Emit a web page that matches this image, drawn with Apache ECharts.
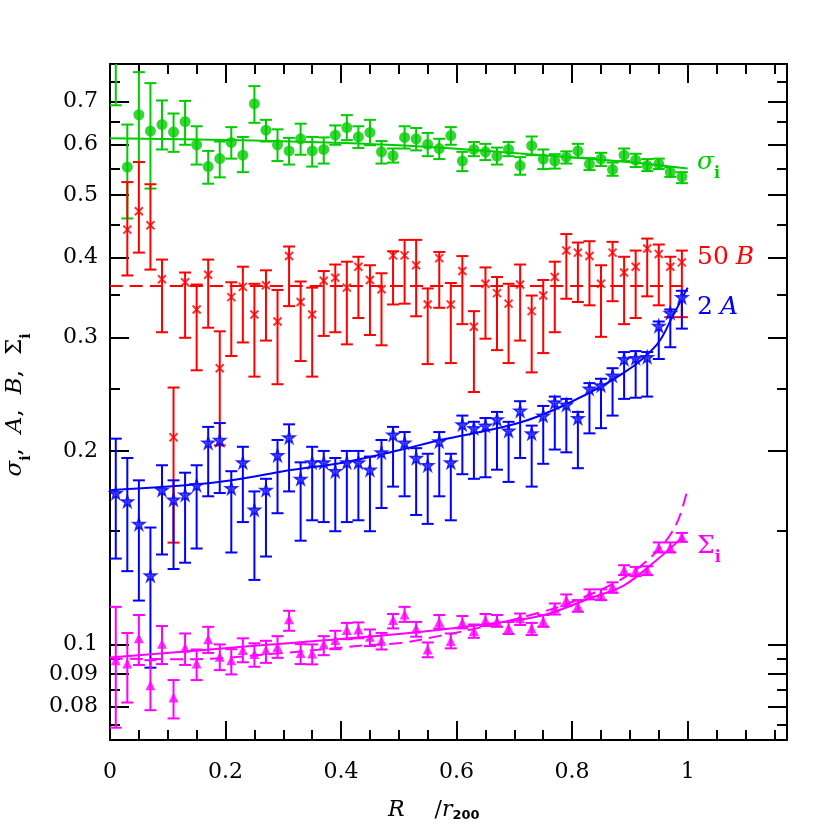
<!DOCTYPE html>
<html><head><meta charset="utf-8">
<script src="https://cdn.jsdelivr.net/npm/echarts@6/dist/echarts.min.js"></script>
<style>html,body{margin:0;padding:0;background:#fff}#c{width:830px;height:830px}</style>
</head><body><div id="c"></div>
<script>
// ---- data ----
const R = [0.01,0.03,0.05,0.07,0.09,0.11,0.13,0.15,0.17,0.19,0.21,0.23,0.25,0.27,0.29,0.31,0.33,0.35,0.37,0.39,0.41,0.43,0.45,0.47,0.49,0.51,0.53,0.55,0.57,0.59,0.61,0.63,0.65,0.67,0.69,0.71,0.73,0.75,0.77,0.79,0.81,0.83,0.85,0.87,0.89,0.91,0.93,0.95,0.97,0.99];

const sigmaI   = [0.88,0.553,0.667,0.629,0.644,0.627,0.651,0.599,0.554,0.570,0.604,0.577,0.694,0.631,0.599,0.586,0.612,0.586,0.589,0.620,0.637,0.616,0.626,0.584,0.576,0.615,0.612,0.600,0.591,0.619,0.565,0.589,0.584,0.575,0.589,0.556,0.597,0.569,0.565,0.573,0.586,0.559,0.569,0.548,0.577,0.567,0.556,0.559,0.543,0.534];
const sigmaILo = [0.690,0.460,0.563,0.512,0.589,0.584,0.599,0.558,0.521,0.533,0.570,0.543,0.648,0.606,0.565,0.558,0.578,0.554,0.560,0.599,0.609,0.592,0.598,0.560,0.562,0.591,0.587,0.575,0.569,0.599,0.545,0.575,0.567,0.558,0.575,0.538,0.577,0.549,0.550,0.560,0.572,0.547,0.555,0.536,0.565,0.553,0.545,0.549,0.534,0.522];
const sigmaIHi = [1.05,0.644,0.777,0.747,0.702,0.670,0.701,0.640,0.586,0.606,0.638,0.616,0.739,0.655,0.633,0.614,0.646,0.616,0.615,0.642,0.666,0.640,0.655,0.607,0.591,0.640,0.636,0.625,0.612,0.638,0.584,0.605,0.601,0.593,0.605,0.573,0.617,0.589,0.579,0.585,0.601,0.571,0.582,0.562,0.591,0.580,0.569,0.570,0.553,0.543];

const B50   = [null,0.442,0.472,0.449,0.370,0.210,0.366,0.332,0.376,0.269,0.347,0.360,0.326,0.362,0.318,0.402,0.341,0.326,0.368,0.372,0.359,0.387,0.369,0.357,0.403,0.403,0.389,0.338,0.399,0.338,0.381,0.312,0.364,0.352,0.339,0.363,0.330,0.349,0.373,0.410,0.407,0.402,0.364,0.407,0.379,0.387,0.413,0.405,0.387,0.393];
const B50Lo = [null,0.375,0.407,0.383,0.306,0.144,0.300,0.267,0.311,0.204,0.281,0.295,0.261,0.297,0.254,0.336,0.276,0.261,0.302,0.306,0.293,0.322,0.303,0.292,0.338,0.339,0.324,0.273,0.334,0.274,0.315,0.247,0.299,0.287,0.274,0.297,0.265,0.284,0.306,0.345,0.341,0.337,0.301,0.342,0.315,0.322,0.348,0.337,0.323,0.323];
const B50Hi = [null,0.524,0.563,0.520,0.397,0.251,0.379,0.363,0.397,0.307,0.366,0.387,0.364,0.382,0.356,0.416,0.367,0.359,0.381,0.390,0.394,0.401,0.389,0.378,0.409,0.426,0.426,0.358,0.408,0.365,0.402,0.330,0.386,0.373,0.364,0.390,0.349,0.369,0.394,0.435,0.422,0.424,0.389,0.423,0.401,0.410,0.428,0.419,0.401,0.410];

const A2   = [0.172,0.167,0.154,0.128,0.174,0.168,0.171,0.177,0.206,0.208,0.175,0.192,0.162,0.174,0.197,0.210,0.181,0.192,0.192,0.186,0.192,0.192,0.187,0.199,0.212,0.206,0.195,0.190,0.207,0.192,0.220,0.217,0.219,0.224,0.215,0.231,0.213,0.227,0.238,0.236,0.225,0.250,0.253,0.262,0.278,0.279,0.280,0.313,0.328,0.347];
const A2Lo = [0.136,0.130,0.117,0.092,0.138,0.131,0.134,0.141,0.170,0.172,0.139,0.155,0.126,0.137,0.160,0.173,0.145,0.156,0.155,0.150,0.155,0.156,0.150,0.163,0.176,0.170,0.159,0.154,0.170,0.156,0.184,0.181,0.182,0.187,0.179,0.195,0.176,0.191,0.201,0.199,0.188,0.213,0.217,0.227,0.241,0.242,0.243,0.278,0.290,0.310];
const A2Hi = [0.209,0.195,0.180,0.152,0.190,0.180,0.185,0.190,0.218,0.221,0.186,0.203,0.173,0.181,0.208,0.220,0.192,0.203,0.200,0.195,0.200,0.200,0.196,0.208,0.218,0.214,0.202,0.198,0.214,0.198,0.227,0.222,0.225,0.230,0.222,0.239,0.219,0.235,0.243,0.241,0.230,0.255,0.259,0.269,0.285,0.286,0.285,0.318,0.332,0.355];

const SigI   = [0.0945,0.0934,0.1022,0.0864,0.1002,0.0827,0.0988,0.0934,0.1019,0.0957,0.0945,0.0980,0.0966,0.0980,0.0991,0.1094,0.0970,0.0968,0.1001,0.1016,0.1053,0.1055,0.1028,0.1013,0.1091,0.1113,0.1059,0.0982,0.1084,0.1012,0.1082,0.1049,0.1091,0.1087,0.1061,0.1098,0.1059,0.1087,0.1138,0.1172,0.1148,0.1197,0.1196,0.1229,0.1305,0.1302,0.1305,0.1415,0.1415,0.1470];
const SigILo = [0.0742,0.0812,0.0929,0.0790,0.0932,0.0767,0.0929,0.0880,0.0970,0.0912,0.0898,0.0938,0.0923,0.0936,0.0953,0.1050,0.0932,0.0931,0.0962,0.0983,0.1019,0.1022,0.0994,0.0982,0.1059,0.1084,0.1028,0.0955,0.1059,0.0986,0.1059,0.1024,0.1068,0.1065,0.1038,0.1072,0.1034,0.1065,0.1113,0.1147,0.1124,0.1175,0.1172,0.1203,0.1282,0.1277,0.1282,0.1390,0.1390,0.1444];
const SigIHi = [0.1144,0.1042,0.1111,0.0945,0.1068,0.0880,0.1040,0.0982,0.1065,0.1000,0.0983,0.1022,0.1004,0.1013,0.1030,0.1128,0.1001,0.1000,0.1030,0.1050,0.1080,0.1082,0.1055,0.1042,0.1115,0.1144,0.1084,0.1007,0.1111,0.1040,0.1107,0.1074,0.1115,0.1111,0.1084,0.1117,0.1080,0.1111,0.1158,0.1196,0.1172,0.1218,0.1218,0.1249,0.1328,0.1320,0.1323,0.1441,0.1441,0.1491];

// fitted curves
const sigmaFitR = [0, 0.25, 0.5, 0.75, 0.9, 1.0];
const sigmaFit  = [0.613, 0.608, 0.598, 0.577, 0.5625, 0.550];
const bFitR = [0, 1.0];
const bFit  = [0.361, 0.361];
const aFitR = [0, 0.155, 0.23, 0.3, 0.41, 0.5, 0.57, 0.704, 0.79, 0.888, 0.946, 0.975, 1.0];
const aFit  = [0.1738, 0.1776, 0.1812, 0.186, 0.1923, 0.2005, 0.2078, 0.2206, 0.2364, 0.264, 0.2922, 0.3252, 0.359];
const sFitR = [0, 0.25, 0.5, 0.66, 0.75, 0.83, 0.89, 0.946, 0.992];
const sFit  = [0.0954, 0.0995, 0.1038, 0.1078, 0.111, 0.1179, 0.1236, 0.1352, 0.147];
const sDashR = [0, 0.13, 0.3, 0.444, 0.502, 0.571, 0.646, 0.749, 0.801, 0.888, 0.946, 0.981, 1.0];
const sDash  = [0.0951, 0.0948, 0.097, 0.0997, 0.1005, 0.1031, 0.1065, 0.1124, 0.1165, 0.1267, 0.1393, 0.1542, 0.175];

// ticks
const xMajorTicks = [0, 0.2, 0.4, 0.6, 0.8, 1.0];
const xMinorTicks = [0.05,0.1,0.15,0.25,0.3,0.35,0.45,0.5,0.55,0.65,0.7,0.75,0.85,0.9,0.95,1.05,1.1,1.15];
const yMajorTicks = [0.08, 0.09, 0.1, 0.2, 0.3, 0.4, 0.5, 0.6, 0.7];
const yMinorTicks = [0.075, 0.085, 0.095, 0.15, 0.25, 0.35, 0.45, 0.55, 0.65, 0.75];
const xRange = [0, 1.172];
const yRange = [0.071, 0.8];

// ---- chart ----
const L = v => Math.log10(v);
const GREEN = '#00cc00', RED = '#ff0000', BLUE = '#0000ff', MAG = '#ff00ff';
const SERIF = 'DejaVu Serif';

function errSeries(vals, lo, hi, color) {
  const data = [];
  R.forEach((x, i) => { if (vals[i] != null) data.push([x, L(lo[i]), L(hi[i])]); });
  return {
    type: 'custom', clip: true, silent: true, z: 2,
    data, encode: { x: 0, y: [1, 2] },
    renderItem(params, api) {
      const x = api.value(0);
      const a = api.coord([x, api.value(1)]);
      const b = api.coord([x, api.value(2)]);
      const hw = 6;
      const st = { stroke: color, lineWidth: 2 };
      return { type: 'group', children: [
        { type: 'line', shape: { x1: a[0], y1: a[1], x2: b[0], y2: b[1] }, style: st },
        { type: 'line', shape: { x1: a[0] - hw, y1: a[1], x2: a[0] + hw, y2: a[1] }, style: st },
        { type: 'line', shape: { x1: b[0] - hw, y1: b[1], x2: b[0] + hw, y2: b[1] }, style: st }
      ]};
    }
  };
}
function pts(vals) {
  const d = [];
  R.forEach((x, i) => { if (vals[i] != null) d.push([x, L(vals[i])]); });
  return d;
}
function fitLine(xs, vs, color, dash) {
  return {
    type: 'line', data: xs.map((x, i) => [x, L(vs[i])]), showSymbol: false, symbol: 'none',
    smooth: 0.35, silent: true, z: 3, clip: true,
    lineStyle: { color, width: 2, type: dash ? [13, 7] : 'solid' }
  };
}
const STAR = 'path://M50,0 L61,35 L98,35 L68,57 L79,91 L50,70 L21,91 L32,57 L2,35 L39,35 Z';
const CROSS = 'path://M0,0 L10,10 M10,0 L0,10';

function xAxisDef(pos, ticks, len, labels, line) {
  return {
    type: 'value', min: xRange[0], max: xRange[1], position: pos,
    axisLine: { show: line, onZero: false, lineStyle: { color: '#000', width: 2 } },
    axisTick: { show: true, inside: true, length: len, customValues: ticks, lineStyle: { color: '#000', width: 2 } },
    axisLabel: labels ? { show: true, customValues: ticks, margin: 21, color: '#000', fontFamily: SERIF, fontSize: 22,
      formatter: v => String(Math.round(v * 100) / 100) } : { show: false },
    splitLine: { show: false }
  };
}
function yAxisDef(pos, ticks, len, labels, line) {
  return {
    type: 'value', min: L(yRange[0]), max: L(yRange[1]), position: pos,
    axisLine: { show: line, onZero: false, lineStyle: { color: '#000', width: 2 } },
    axisTick: { show: true, inside: true, length: len, customValues: ticks.map(L), lineStyle: { color: '#000', width: 2 } },
    axisLabel: labels ? { show: true, customValues: ticks.map(L), margin: 12, color: '#000', fontFamily: SERIF, fontSize: 22,
      formatter: v => { const t = yMajorTicks.find(t => Math.abs(L(t) - v) < 1e-6); return t != null ? String(t) : ''; } } : { show: false },
    splitLine: { show: false }
  };
}

const subRich = (size, color, lh, sp) => ({
  it:  { fontFamily: SERIF, fontStyle: 'italic', fontSize: size, fill: color, lineHeight: lh, verticalAlign: 'middle' },
  n:   { fontFamily: SERIF, fontSize: size, fill: color, lineHeight: lh, verticalAlign: 'middle' },
  sub: { fontFamily: SERIF, fontWeight: 'bold', fontSize: Math.round(size * 0.62), fill: color, lineHeight: lh, verticalAlign: 'bottom' },
  gap: { width: 7, fontSize: size, lineHeight: lh },
  sp:  { width: sp || 12, fontSize: size, lineHeight: lh }
});
function tx(x, y, text, rich, extra) {
  return Object.assign({ type: 'text', x, y, silent: true, z: 100,
    style: { text, rich, align: 'left', verticalAlign: 'middle', textAlign: 'left', textVerticalAlign: 'middle' } }, extra || {});
}
const yTitle = '{it|σ}{sub|i}{n|,}{sp|}{it|A}{n|,}{sp|}{it|B}{n|,}{sp|}{n|Σ}{sub|i}';

const option = {
  animation: false,
  backgroundColor: '#fff',
  grid: { left: 110, right: 43, top: 64, bottom: 90, containLabel: false, outerBoundsMode: 'none' },
  xAxis: [
    xAxisDef('bottom', xMajorTicks, 19, true, true),
    xAxisDef('bottom', xMinorTicks, 10, false, false),
    xAxisDef('top', xMajorTicks, 19, false, true),
    xAxisDef('top', xMinorTicks, 10, false, false)
  ],
  yAxis: [
    yAxisDef('left', yMajorTicks, 19, true, true),
    yAxisDef('left', yMinorTicks, 10, false, false),
    yAxisDef('right', yMajorTicks, 19, false, true),
    yAxisDef('right', yMinorTicks, 10, false, false)
  ],
  series: [
    fitLine(sigmaFitR, sigmaFit, GREEN, false),
    errSeries(sigmaI, sigmaILo, sigmaIHi, GREEN),
    { type: 'scatter', data: pts(sigmaI), symbol: 'circle', symbolSize: 11, itemStyle: { color: GREEN }, z: 4, silent: true },

    fitLine(bFitR, bFit, RED, true),
    errSeries(B50, B50Lo, B50Hi, RED),
    { type: 'scatter', data: pts(B50), symbol: CROSS, symbolSize: 8, itemStyle: { color: 'rgba(0,0,0,0)', borderColor: RED, borderWidth: 2 }, z: 4, silent: true },

    fitLine(aFitR, aFit, BLUE, false),
    errSeries(A2, A2Lo, A2Hi, BLUE),
    { type: 'scatter', data: pts(A2), symbol: STAR, symbolSize: 12, itemStyle: { color: '#3030ff', borderColor: BLUE, borderWidth: 1.5 }, z: 4, silent: true },

    fitLine(sFitR, sFit, MAG, false),
    fitLine(sDashR, sDash, MAG, true),
    errSeries(SigI, SigILo, SigIHi, MAG),
    { type: 'scatter', data: pts(SigI), symbol: 'triangle', symbolSize: 10, itemStyle: { color: MAG }, z: 4, silent: true }
  ],
  graphic: [
    { type: 'text', x: 15, y: 405, rotation: Math.PI / 2, silent: true, z: 100,
      style: { text: yTitle, rich: subRich(23, '#000', 36, 15),
               align: 'center', verticalAlign: 'middle', textAlign: 'center', textVerticalAlign: 'middle' } },
    tx(388, 810, '{it|R}{g|}{n|/}{it|r}{s|200}', {
      it: { fontFamily: SERIF, fontStyle: 'italic', fontSize: 22, fill: '#000', lineHeight: 24, verticalAlign: 'middle' },
      n:  { fontFamily: SERIF, fontSize: 22, fill: '#000', lineHeight: 24, verticalAlign: 'middle' },
      g:  { width: 30, fontSize: 22, lineHeight: 24 },
      s:  { fontFamily: 'DejaVu Sans', fontWeight: 'bold', fontSize: 13, fill: '#000', lineHeight: 24, verticalAlign: 'bottom' }
    }),
    tx(697, 162, '{it|σ}{sub|i}', subRich(25, GREEN, 40)),
    tx(697, 257, '{n|50}{gap|}{it|B}', subRich(25, RED, 40)),
    tx(697, 307, '{n|2}{gap|}{it|A}', subRich(25, BLUE, 40)),
    tx(697, 546, '{n|Σ}{sub|i}', subRich(25, MAG, 40))
  ]
};
const chart = echarts.init(document.getElementById('c'));
chart.setOption(option);
</script>
</body></html>
